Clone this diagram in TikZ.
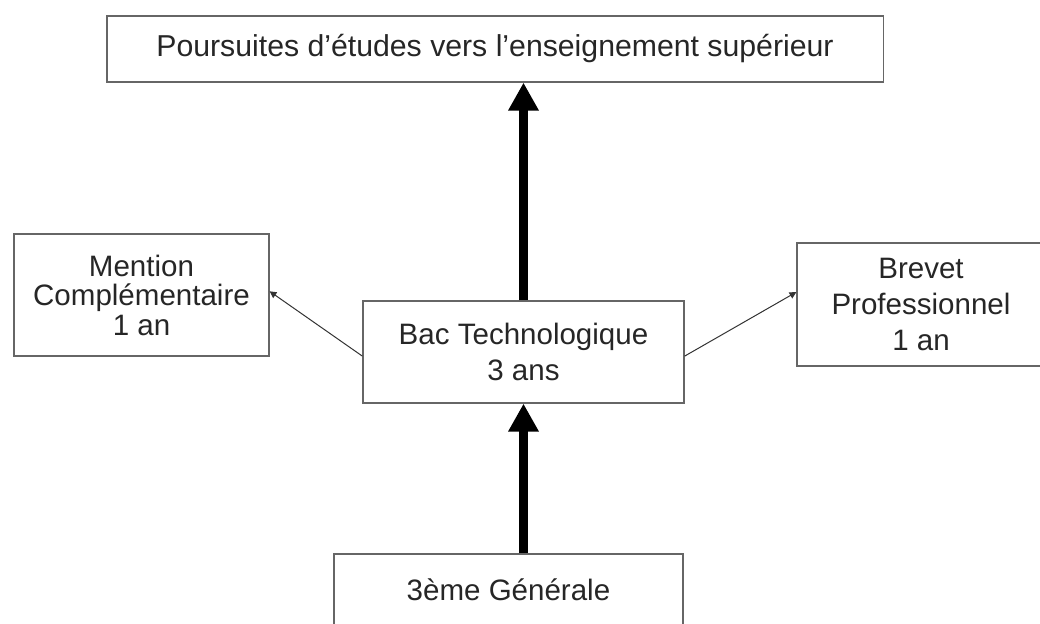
\documentclass[tikz,border=0pt]{standalone}
\usepackage{fontspec}
\setmainfont{Liberation Sans}
\usetikzlibrary{arrows.meta,calc}

\tikzset{
  box/.style={draw=black!60, line width=0.03cm, inner sep=0pt, align=center, text=black!85,
    font=\fontsize{21}{25.5}\selectfont},
  bigarrow/.style={line width=0.22cm, -{Triangle[width=0.72cm,length=0.7cm]}},
  smallarrow/.style={line width=0.025cm, draw=black!80, -{Triangle[width=0.17cm,length=0.17cm]}},
}

\begin{document}
\begin{tikzpicture}[x=0.025cm, y=-0.025cm]
			%%%%% START %%%%%
			\useasboundingbox (0,0) rectangle (1040,624);
			
			\node[box, minimum width=19.4cm, minimum height=1.65cm, font=\fontsize{21.5}{26}\selectfont] (etudes) at (495,49) {Poursuites d’études vers l’enseignement supérieur};
			
			\node[box, minimum width=6.375cm, minimum height=3.05cm, font=\fontsize{21}{21}\selectfont] (mention) at (141.5,295) {Mention\\Complémentaire\\1 an};
			\node[box, minimum width=8.025cm, minimum height=2.55cm] (bac) at (523.5,352) {Bac Technologique\\3 ans};
			\node[box, minimum width=6.2cm, minimum height=3.075cm] (brevet) at (921,304.5) {Brevet\\Professionnel\\1 an};
			
			\node[box, minimum width=8.725cm, minimum height=1.8cm] (troisieme) at (508.5,590) {3ème Générale};
			
			\draw[bigarrow] (bac.north) -- (bac.north |- etudes.south);
			\draw[bigarrow] (troisieme.north -| bac) -- (bac.south);
			
			\draw[smallarrow] ($(bac.north west)!0.54!(bac.south west)$) -- ($(mention.north east)!0.47!(mention.south east)$);
			\draw[smallarrow] ($(bac.north east)!0.54!(bac.south east)$) -- ($(brevet.north west)!0.4!(brevet.south west)$);
			
			%%%%% END %%%%%
\end{tikzpicture}
\end{document}
